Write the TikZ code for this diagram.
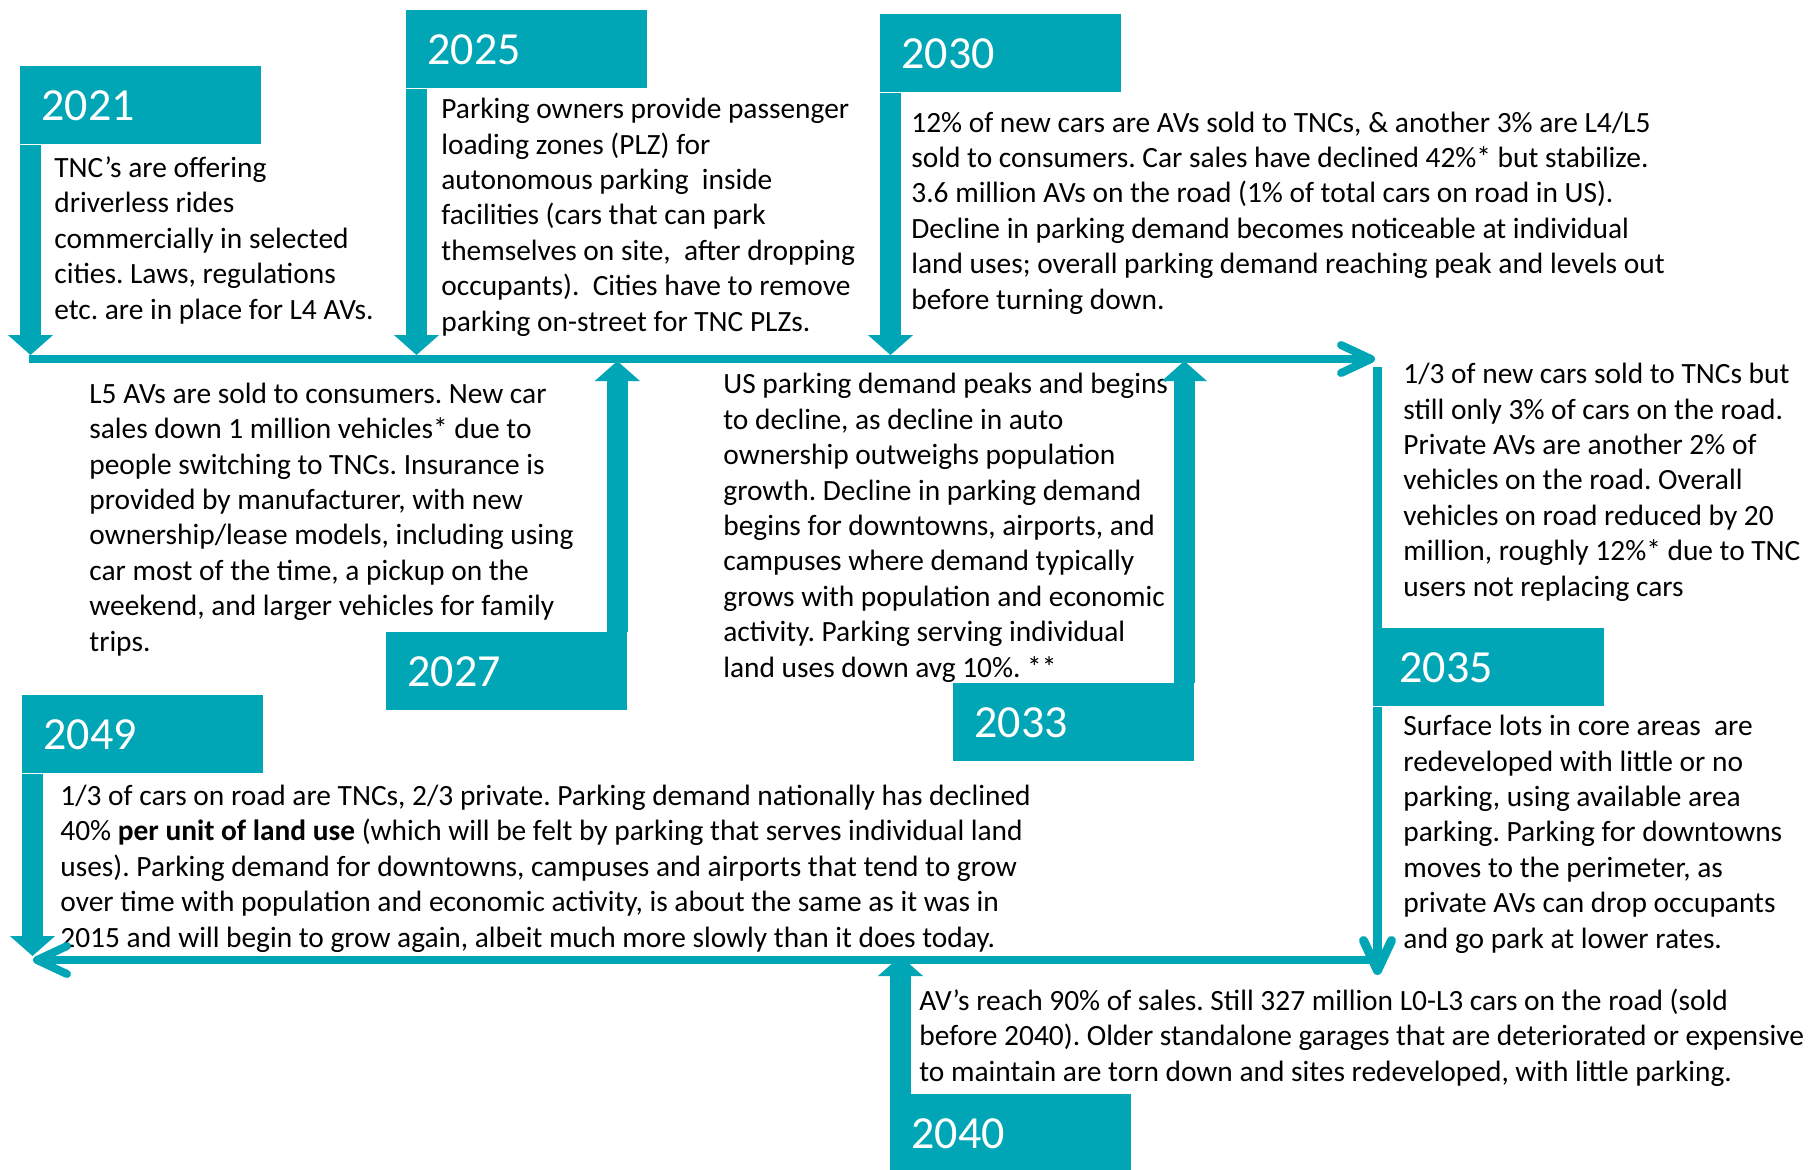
\documentclass[tikz,border=0pt]{standalone}
\usepackage{fontspec}
\setmainfont{Carlito}
\usetikzlibrary{arrows.meta}
\definecolor{avteal}{RGB}{0,166,181}
\frenchspacing

\begin{document}
\begin{tikzpicture}[x=0.5pt, y=-0.5pt,
	yearbox/.style={fill=avteal, text=white, anchor=north west, inner xsep=10.5pt, inner ysep=0pt,
		text width=99.5pt, minimum height=39pt, align=left, font=\fontsize{23}{28}\selectfont},
	note/.style={anchor=base west, align=left, inner sep=0pt, font=\fontsize{14.7}{17.7}\selectfont},
	bar/.style={avteal, line width=10.5pt, -{Triangle[width=22pt, length=10pt]}},
	tline/.style={avteal, line width=4pt, -{Straight Barb[width=14pt, length=15pt, round]}}]
				
				\useasboundingbox[fill=white] (0,0) rectangle (1810,1169);
				
				% year boxes
				\node[yearbox] (y2021) at (20,66) {2021};
				\node[yearbox] (y2025) at (406,10) {2025};
				\node[yearbox] (y2030) at (880,14) {2030};
				\node[yearbox] (y2027) at (386,632) {2027};
				\node[yearbox] (y2033) at (953,683) {2033};
				\node[yearbox, inner xsep=13pt, text width=89.5pt] (y2035) at (1373,628) {2035};
				\node[yearbox] (y2049) at (22,695) {2049};
				\node[yearbox] (y2040) at (890,1094) {2040};
				
				% texts above the timeline (placed at the baseline of their last line)
				\node[note] (t2021) at (54,319) {TNC’s are offering\\driverless rides\\commercially in selected\\cities. Laws, regulations\\etc. are in place for L4 AVs.};
				\node[note] (t2025) at (441,331) {Parking owners provide passenger\\loading zones (PLZ) for\\autonomous parking\ \ inside\\facilities (cars that can park\\themselves on site,\ \ after dropping\\occupants).\ \ Cities have to remove\\parking on-street for TNC PLZs.};
				\node[note] (t2030) at (911,309) {12\% of new cars are AVs sold to TNCs, \& another 3\% are L4/L5\\sold to consumers. Car sales have declined 42\%* but stabilize.\\3.6 million AVs on the road (1\% of total cars on road in US).\\Decline in parking demand becomes noticeable at individual\\land uses; overall parking demand reaching peak and levels out\\before turning down.};
				
				% texts below the timeline
				\node[note] (t2027) at (89,651) {L5 AVs are sold to consumers. New car\\sales down 1 million vehicles* due to\\people switching to TNCs. Insurance is\\provided by manufacturer, with new\\ownership/lease models, including using\\car most of the time, a pickup on the\\weekend, and larger vehicles for family\\trips.};
				\node[note] (t2033) at (723,677) {US parking demand peaks and begins\\to decline, as decline in auto\\ownership outweighs population\\growth. Decline in parking demand\\begins for downtowns, airports, and\\campuses where demand typically\\grows with population and economic\\activity. Parking serving individual\\land uses down avg 10\%. **};
				\node[note] (t2035a) at (1403,596) {1/3 of new cars sold to TNCs but\\still only 3\% of cars on the road.\\Private AVs are another 2\% of\\vehicles on the road. Overall\\vehicles on road reduced by 20\\million, roughly 12\%* due to TNC\\users not replacing cars};
				\node[note] (t2035b) at (1403,948) {Surface lots in core areas\ \ are\\redeveloped with little or no\\parking, using available area\\parking. Parking for downtowns\\moves to the perimeter, as\\private AVs can drop occupants\\and go park at lower rates.};
				\node[note] (t2049) at (60,947) {1/3 of cars on road are TNCs, 2/3 private. Parking demand nationally has declined\\40\% \textbf{per unit of land use} (which will be felt by parking that serves individual land\\uses). Parking demand for downtowns, campuses and airports that tend to grow\\over time with population and economic activity, is about the same as it was in\\2015 and will begin to grow again, albeit much more slowly than it does today.};
				\node[note] (t2040) at (919,1081) {AV’s reach 90\% of sales. Still 327 million L0-L3 cars on the road (sold\\before 2040). Older standalone garages that are deteriorated or expensive\\to maintain are torn down and sites redeveloped, with little parking.};
				
				% timeline
				\coordinate (a1) at (29,359);
				\coordinate (a2) at (1375,359);
				\coordinate (c1) at (1377.5,367);
				\coordinate (c2) at (1377.5,975);
				\coordinate (b1) at (1380,960);
				\coordinate (b2) at (33,960);
				\draw[tline] (a1) -- (a2);
				\draw[avteal, line width=4.5pt] (c1) -- (c1 |- y2035.north);
				\draw[tline, line width=4.5pt] (c1 |- y2035.south) -- (c2);
				\draw[tline] (b1) -- (b2);
				
				% where the year arrows end
				\coordinate (rowtop) at (0,355);
				\coordinate (rowup) at (0,361);
				\coordinate (lowtop) at (0,956);
				
				% arrows from the year boxes
				\coordinate (d2021) at ([xshift=5.25pt]y2021.south west);
				\coordinate (d2025) at ([xshift=5.25pt]y2025.south west);
				\coordinate (d2030) at ([xshift=5.25pt]y2030.south west);
				\coordinate (d2049) at ([xshift=5.25pt]y2049.south west);
				\coordinate (u2027) at ([xshift=-5.25pt]y2027.north east);
				\coordinate (u2033) at ([xshift=-5.25pt]y2033.north east);
				\coordinate (u2040) at ([xshift=5.25pt]y2040.north west);
				\draw[bar] (d2021) -- (d2021 |- rowtop);
				\draw[bar] (d2025) -- (d2025 |- rowtop);
				\draw[bar] (d2030) -- (d2030 |- rowtop);
				\draw[bar] (d2049) -- (d2049 |- lowtop);
				\draw[bar] (u2027) -- (u2027 |- rowup);
				\draw[bar] (u2033) -- (u2033 |- rowup);
				\draw[bar] (u2040) -- (u2040 |- lowtop);
				
			\end{tikzpicture}
\end{document}
